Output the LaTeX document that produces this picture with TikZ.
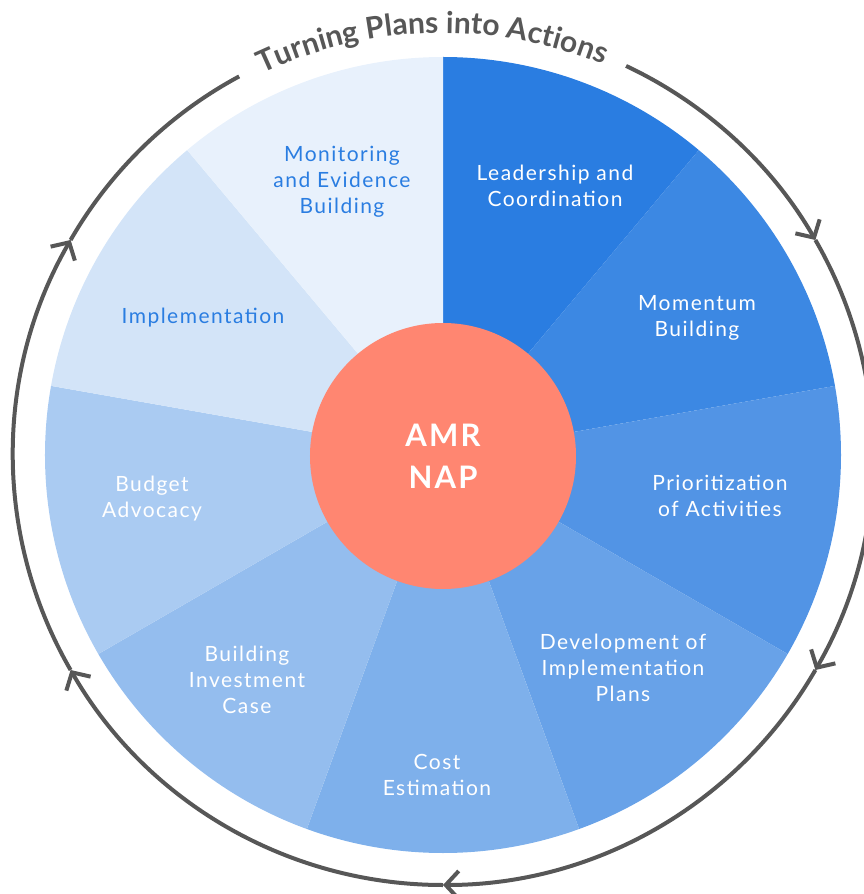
\documentclass[tikz,border=0pt]{standalone}
\usepackage{fontspec}
\setmainfont{Lato}[LetterSpace=7]
\newfontfamily\ringtitlefam{Lato}
\usetikzlibrary{arrows.meta}
\usetikzlibrary{decorations.text}

\definecolor{ringgray}{HTML}{575757}
\definecolor{hubred}{HTML}{FF8671}
\definecolor{labelblue}{HTML}{2A7DE1}
\definecolor{seg1}{HTML}{2A7DE1}
\definecolor{seg2}{HTML}{3C88E3}
\definecolor{seg3}{HTML}{5294E5}
\definecolor{seg4}{HTML}{68A2E8}
\definecolor{seg5}{HTML}{7EB0EB}
\definecolor{seg6}{HTML}{94BDEE}
\definecolor{seg7}{HTML}{AACBF2}
\definecolor{seg8}{HTML}{D3E4F8}
\definecolor{seg9}{HTML}{E8F1FC}

\newcommand{\ringtitlefont}{\ringtitlefam\fontsize{30}{32}\selectfont\bfseries}

\begin{document}
\begin{tikzpicture}[x=1pt, y=1pt,
  ring/.style={ringgray, line width=4pt, >={Straight Barb[length=13pt,width=28pt,line width=4pt]}},
  seglabel/.style={align=center, inner sep=0pt, font=\fontsize{21}{26}\selectfont}]
\useasboundingbox (-443,-439) rectangle (420,455);

% pie, clockwise from the top
\foreach \i/\a in {1/90,2/50,3/10,4/-30,5/-70,6/-110,7/-150,8/-190,9/-230} {
 \fill[seg\i] (0,0) -- (\a:398) arc[start angle=\a, end angle=\a-40, radius=398] -- cycle;
}

% hub
\node[circle, fill=hubred, minimum size=266pt, inner sep=0pt, align=center, text=white,
      font=\fontsize{31}{42}\selectfont\bfseries] (hub) at (0,-1) {AMR\\NAP};

% step labels
\foreach \n/\x/\y/\c/\t in {
  lead/112/269/white/{Leadership and\\Coordination},
  momentum/254/137/white/{Momentum\\Building},
  prio/277/-41/white/{Prioritization\\of Activities},
  devplans/180/-213/white/{Development of\\Implementation\\Plans},
  cost/-6/-320/white/{Cost\\Estimation},
  invest/-196/-225/white/{Building\\Investment\\Case},
  budget/-291/-44/white/{Budget\\Advocacy},
  impl/-240/137/labelblue/{Implementation},
  monitor/-101/273/labelblue/{Monitoring\\and Evidence\\Building}} {
 \node[seglabel, text=\c] (\n) at (\x,\y) {\t};
}

% cycle ring
\foreach \a/\b in {64.8/30, 30/-30, -30/-90, -90/-150, -150/-210} {
 \draw[ring, ->] (\a:430) arc[start angle=\a, end angle=\b, radius=430];
}
\draw[ring] (-210:430) arc[start angle=-210, end angle=-241.7, radius=430];

\path[decorate, decoration={text along path, text align=center, text color=ringgray,
      text={|\ringtitlefont|Turning Plans into Actions}}]
  (126.5:422) arc[start angle=126.5, end angle=56.5, radius=422];
\end{tikzpicture}
\end{document}
